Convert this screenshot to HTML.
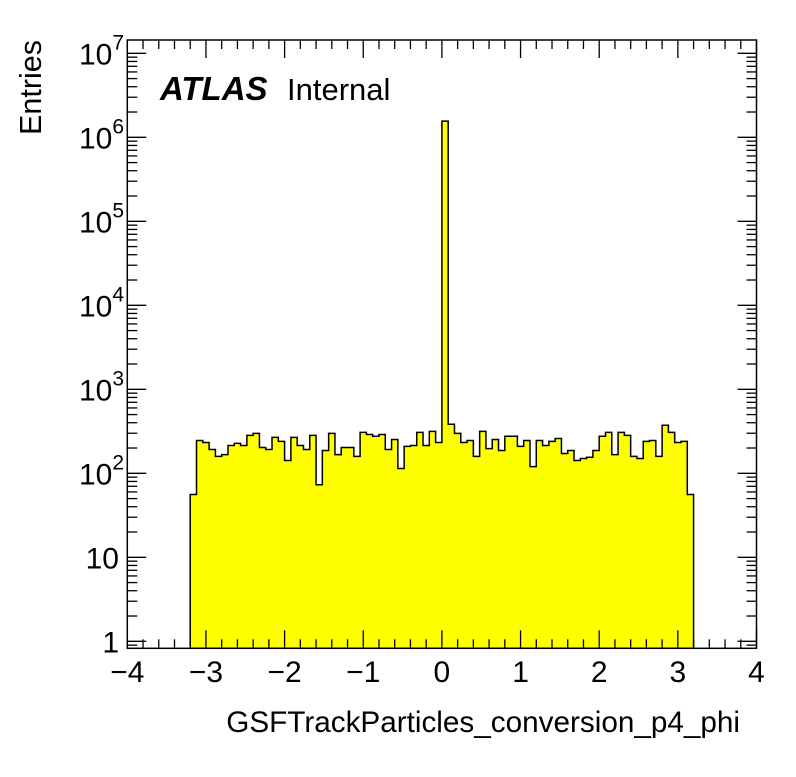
<!DOCTYPE html>
<html><head><meta charset="utf-8"><style>
html,body{margin:0;padding:0;background:#fff;}
svg text{font-family:"Liberation Sans",Arial,sans-serif;}
</style></head><body>
<svg id="chart" width="796" height="772" viewBox="0 0 796 772" xmlns="http://www.w3.org/2000/svg">
<rect x="0" y="0" width="796" height="772" fill="#fff"/>
<g id="plot"></g>
<g id="axes"></g>
<text x="160" y="100" font-size="33" font-weight="bold" font-style="italic">ATLAS</text>
<text x="287" y="100" font-size="31">Internal</text>
<text x="740" y="732" font-size="29.7" text-anchor="end">GSFTrackParticles_conversion_p4_phi</text>
<text transform="translate(41,40) rotate(-90)" font-size="30.5" text-anchor="end">Entries</text>
</svg>
<script>
const binLow = -3.2;
const binWidth = 0.08;
const counts = [56,246,233,192,159,167,214,227,214,283,299,203,192,268,240,142,268,214,192,283,73,187,299,167,203,203,159,307,290,276,290,192,253,114,209,214,307,214,316,233,1560000,383,299,233,246,159,316,197,253,187,276,276,209,246,120,246,214,240,260,172,187,142,150,155,187,276,307,167,307,283,159,150,240,246,159,373,307,233,240,56];
const xTicks = [-4,-3,-2,-1,0,1,2,3,4];
const xTickLabels = ["\u22124","\u22123","\u22122","\u22121","0","1","2","3","4"];
const yDecades = [0,1,2,3,4,5,6,7];

const L=127.3,R=756.5,T=40,B=648.3;
const xMin=-4,xMax=4;
const y1=641.3, dec=84;
function X(v){return L+(v-xMin)/(xMax-xMin)*(R-L);}
function Y(v){return y1-Math.log10(v)*dec;}
const NS="http://www.w3.org/2000/svg";
function mk(tag,attrs,parent){const e=document.createElementNS(NS,tag);for(const k in attrs)e.setAttribute(k,attrs[k]);parent.appendChild(e);return e;}
const plot=document.getElementById('plot');
const axes=document.getElementById('axes');

let d="M"+X(binLow)+","+B;
for(let i=0;i<counts.length;i++){
  const x0=X(binLow+i*binWidth),x1=X(binLow+(i+1)*binWidth);
  const y=Math.max(T,Math.min(B,Y(counts[i])));
  d+=" L"+x0+","+y+" L"+x1+","+y;
}
d+=" L"+X(binLow+counts.length*binWidth)+","+B+" Z";
const hist=mk('path',{d:d,fill:'#ffff00',stroke:'#000','stroke-width':1.5},plot);



const fr=mk('rect',{x:L,y:T,width:R-L,height:B-T,fill:'none',stroke:'#000','stroke-width':1.5},axes);



for(let v=-4;v<=4.0001;v+=0.2){
  const vv=Math.round(v*10)/10;
  const major=Math.abs(vv-Math.round(vv))<1e-6;
  const len=major?18:9;const x=X(vv);
  mk('line',{x1:x,y1:B,x2:x,y2:B-len,stroke:'#000','stroke-width':1.3},axes);
  mk('line',{x1:x,y1:T,x2:x,y2:T+len,stroke:'#000','stroke-width':1.3},axes);
}
xTicks.forEach((v,i)=>{
  const t=mk('text',{x:X(v),y:682,'font-size':30,'text-anchor':'middle'},axes);
  t.textContent=xTickLabels[i];
  
  
});

for(let e=-1;e<=7;e++){
  for(let m=1;m<=9;m++){
    const v=m*Math.pow(10,e);const y=Y(v);
    if(y<T||y>B)continue;
    const len=m===1?19:10;
    mk('line',{x1:L,y1:y,x2:L+len,y2:y,stroke:'#000','stroke-width':1.3},axes);
    mk('line',{x1:R,y1:y,x2:R-len,y2:y,stroke:'#000','stroke-width':1.3},axes);
  }
}
yDecades.forEach(e=>{
  const y=Y(Math.pow(10,e));
  const t=mk('text',{x:119,y:y+11,'font-size':30,'text-anchor':'end'},axes);
  
  
  if(e===0){t.textContent="1";}
  else if(e===1){t.textContent="10";}
  else{
    t.setAttribute('x',79);
    t.setAttribute('text-anchor','start');
    t.textContent="10";
    const s=mk('tspan',{dy:-15,'font-size':21},t);s.textContent=String(e);
  }
});
</script>
</body></html>
